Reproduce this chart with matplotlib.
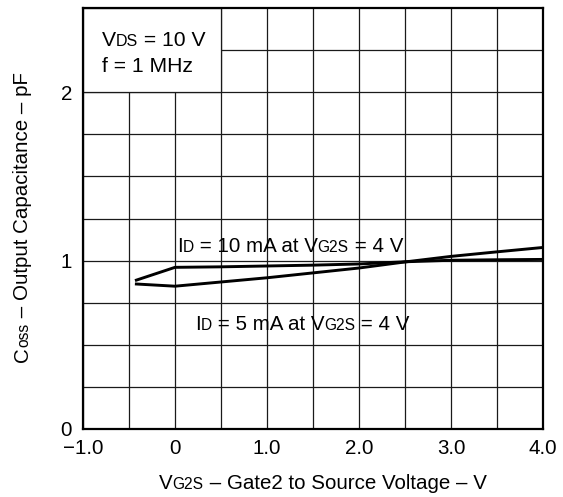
import matplotlib
matplotlib.use("Agg")
import matplotlib.pyplot as plt
from matplotlib.patches import Rectangle
from matplotlib.transforms import IdentityTransform

plt.rcParams["font.family"] = ["Liberation Sans", "DejaVu Sans"]

# curve data
vg2s_a = [-0.42, 0.0, 0.5, 1.0, 1.5, 2.0, 2.5, 3.0, 3.5, 4.0]
coss_a = [0.884, 0.960, 0.963, 0.968, 0.973, 0.980, 0.993, 1.002, 1.005, 1.007]
vg2s_b = [-0.42, 0.0, 0.5, 1.0, 1.5, 2.0, 2.5, 3.0, 3.5, 4.0]
coss_b = [0.861, 0.848, 0.873, 0.898, 0.927, 0.956, 0.992, 1.025, 1.052, 1.078]

x_ticks = [-1.0, 0.0, 1.0, 2.0, 3.0, 4.0]
x_labels = ["\u22121.0", "0", "1.0", "2.0", "3.0", "4.0"]
y_ticks = [0, 1, 2]
y_labels = ["0", "1", "2"]

MAIN = 14.8
SUB = 11.2
BOX = 15.2
BOX_SUB = 11.5

W, H = 563, 497


def piece_width(fig, r, s, size):
    t = fig.text(0, 0, "|" + s + "|", fontsize=size, transform=IdentityTransform())
    w = t.get_window_extent(r).width
    t.remove()
    t = fig.text(0, 0, "||", fontsize=size, transform=IdentityTransform())
    w2 = t.get_window_extent(r).width
    t.remove()
    return w - w2


def put_text(fig, x, y, pieces, rotation=0):
    # x, y are display pixels of the left end of the baseline
    r = fig.canvas.get_renderer()
    pos = 0.0
    for s, size in pieces:
        w = piece_width(fig, r, s, size)
        tx, ty = (x, y + pos) if rotation == 90 else (x + pos, y)
        fig.text(tx, ty, s, fontsize=size, transform=IdentityTransform(),
                 rotation=rotation, rotation_mode="anchor",
                 ha="left", va="baseline")
        pos += w


fig = plt.figure(figsize=(W / 100, H / 100), dpi=100)
ax = fig.add_axes([83 / W, (H - 429) / H, 460 / W, 421 / H])

ax.set_xlim(-1, 4)
ax.set_ylim(0, 2.5)
ax.set_xticks(x_ticks)
ax.set_xticklabels(x_labels)
ax.set_yticks(y_ticks)
ax.set_yticklabels(y_labels)
ax.set_xticks([-0.5 + i for i in range(5)], minor=True)
ax.set_yticks([0.25 * i for i in range(1, 10)], minor=True)
ax.tick_params(which="both", length=0, labelsize=MAIN)
ax.tick_params(axis="x", pad=7)
ax.tick_params(axis="y", pad=8)
ax.set_axisbelow(True)
ax.grid(which="both", color="#1a1a1a", lw=0.9)
for sp in ax.spines.values():
    sp.set_linewidth(1.6)

ax.add_patch(Rectangle((-1, 2.0), 1.5, 0.5, facecolor="white",
                       edgecolor="#1a1a1a", lw=0.9, zorder=1))

ax.plot(vg2s_a, coss_a, color="black", lw=2.1, zorder=3)
ax.plot(vg2s_b, coss_b, color="black", lw=2.1, zorder=3)

to_px = ax.transData.transform

x0, y0 = to_px((-0.793, 2.273))
put_text(fig, x0, y0, [("V", BOX), ("DS", BOX_SUB), (" = 10 V", BOX)])
x0, y0 = to_px((-0.793, 2.119))
put_text(fig, x0, y0, [("f = 1 MHz", BOX)])

x0, y0 = to_px((0.022, 1.052))
put_text(fig, x0, y0, [("I", MAIN), ("D", SUB), (" = 10 mA at V", MAIN),
                       ("G2S", SUB), (" = 4 V", MAIN)])
x0, y0 = to_px((0.217, 0.588))
put_text(fig, x0, y0, [("I", MAIN), ("D", SUB), (" = 5 mA at V", MAIN),
                       ("G2S", SUB), (" = 4 V", MAIN)])

put_text(fig, 159, H - 489, [("V", MAIN), ("G2S", SUB),
                            (" \u2013 Gate2 to Source Voltage \u2013 V", MAIN)])
put_text(fig, 28, H - 362, [("C", MAIN), ("oss", SUB),
                           (" \u2013 Output Capacitance \u2013 pF", MAIN)],
         rotation=90)

fig.savefig("out.png", dpi=100)
